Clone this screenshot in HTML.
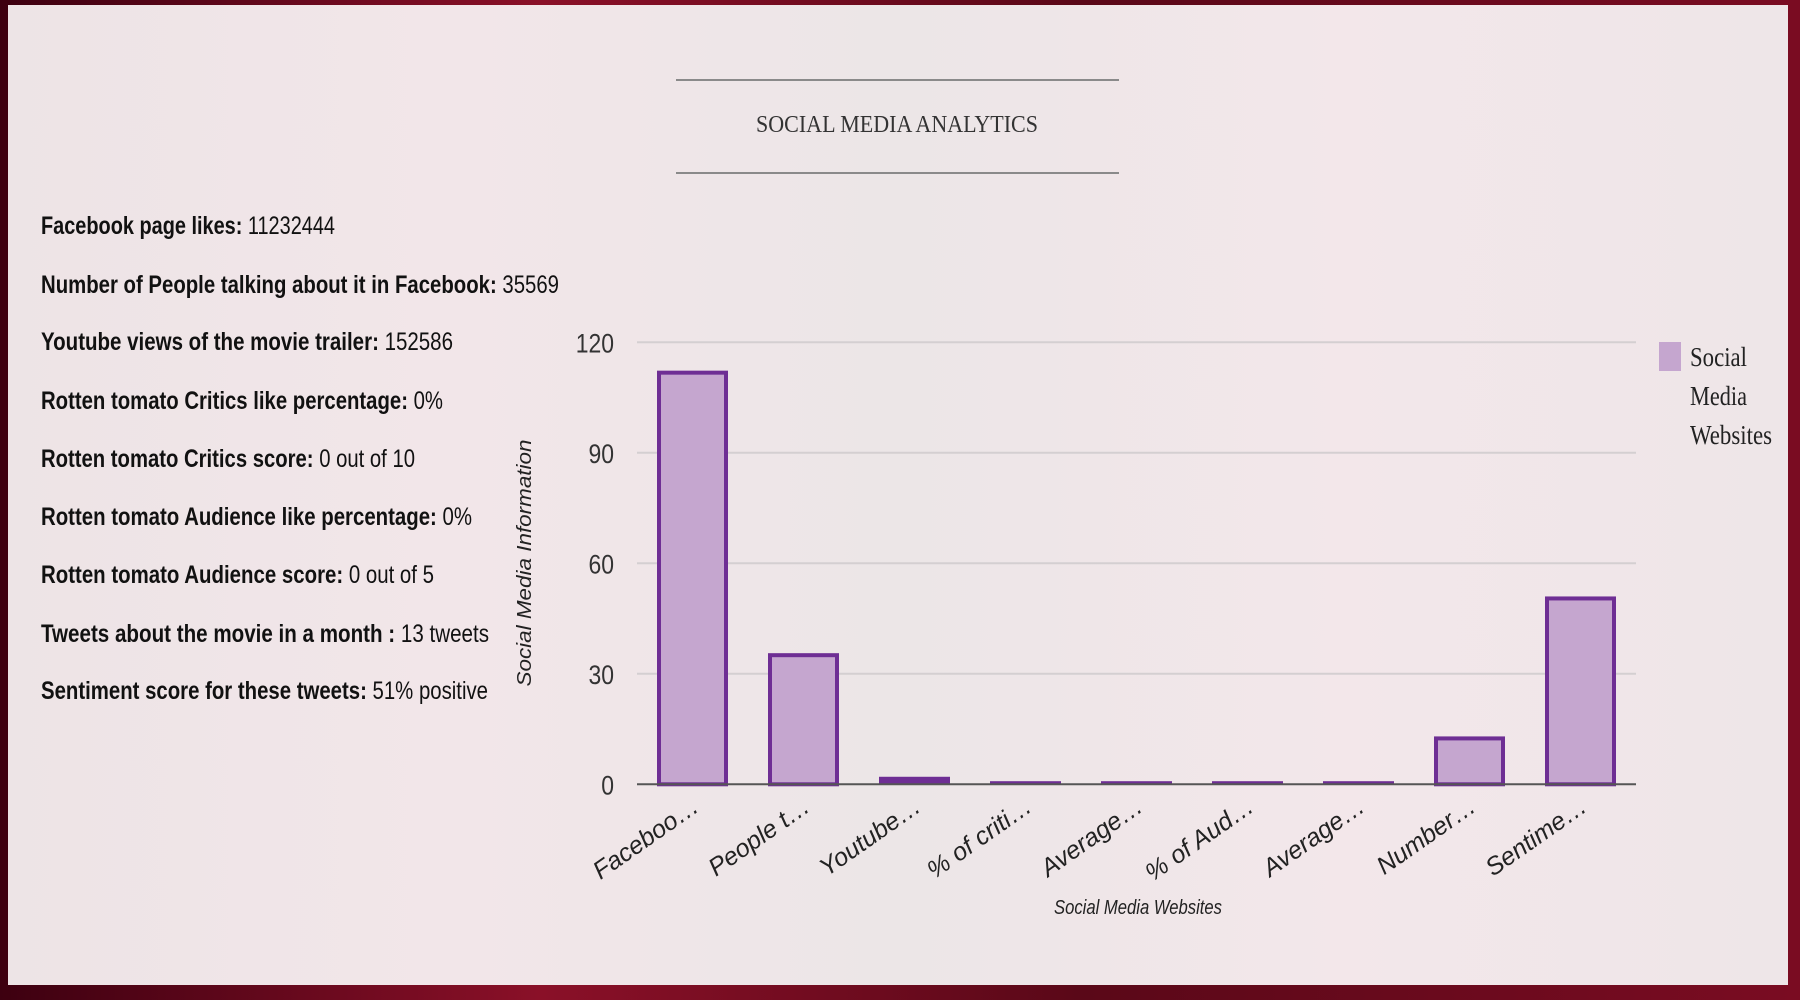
<!DOCTYPE html>
<html><head><meta charset="utf-8"><style>
html,body{margin:0;padding:0;width:1800px;height:1000px;overflow:hidden;background:#6a0a1c}
svg{display:block}
</style></head><body>
<svg id="chart" width="1800" height="1000" xmlns="http://www.w3.org/2000/svg">
<defs>
<linearGradient id="frame" x1="0" x2="1" y1="0" y2="0">
<stop offset="0" stop-color="#3d0010"/><stop offset="0.3" stop-color="#8a1028"/><stop offset="0.6" stop-color="#5a0818"/><stop offset="1" stop-color="#7a0c22"/>
</linearGradient>
<linearGradient id="panel" x1="0" x2="1" y1="0" y2="0">
<stop offset="0" stop-color="#ede4e6"/><stop offset="0.25" stop-color="#f2e6e9"/><stop offset="0.5" stop-color="#ece6e7"/><stop offset="0.75" stop-color="#f3e7ea"/><stop offset="1" stop-color="#eee6e8"/>
</linearGradient>
</defs>
<rect x="0" y="0" width="1800" height="1000" fill="url(#frame)"/>
<rect x="8" y="5" width="1780" height="980" fill="url(#panel)"/>

<g>
<line x1="676" y1="80" x2="1119" y2="80" stroke="#8a8a8a" stroke-width="2"/>
<line x1="676" y1="173" x2="1119" y2="173" stroke="#8a8a8a" stroke-width="2"/>
<text x="897" y="132" text-anchor="middle" font-family="Liberation Serif, serif" font-size="24" fill="#333" textLength="282" lengthAdjust="spacingAndGlyphs">SOCIAL MEDIA ANALYTICS</text>
</g>

<g id="stats" font-family="Liberation Sans, sans-serif" font-size="25" fill="#111"></g>
<g id="plot"></g>

<g>
<rect x="1659" y="342" width="22" height="29" fill="#c5a6cf"/>
<text font-family="Liberation Serif, serif" font-size="27" fill="#222">
<tspan x="1690" y="366" textLength="57" lengthAdjust="spacingAndGlyphs">Social</tspan><tspan x="1690" y="405" textLength="57" lengthAdjust="spacingAndGlyphs">Media</tspan><tspan x="1690" y="444" textLength="82" lengthAdjust="spacingAndGlyphs">Websites</tspan></text>
</g>

<text transform="translate(531,563) rotate(-90)" text-anchor="middle" font-family="Liberation Sans, sans-serif" font-style="italic" font-size="20" fill="#222" textLength="247" lengthAdjust="spacingAndGlyphs">Social Media Information</text>
<text x="1138" y="914" text-anchor="middle" font-family="Liberation Sans, sans-serif" font-style="italic" font-size="20" fill="#222" textLength="168" lengthAdjust="spacingAndGlyphs">Social Media Websites</text>
</svg>
<script>
const statLabels = ["Facebook page likes:", "Number of People talking about it in Facebook:", "Youtube views of the movie trailer:", "Rotten tomato Critics like percentage:", "Rotten tomato Critics score:", "Rotten tomato Audience like percentage:", "Rotten tomato Audience score:", "Tweets about the movie in a month :", "Sentiment score for these tweets:"];
const statValues = ["11232444", "35569", "152586", "0%", "0 out of 10", "0%", "0 out of 5", "13 tweets", "51% positive"];
const categories = ["Faceboo…", "People t…", "Youtube…", "% of criti…", "Average…", "% of Aud…", "Average…", "Number…", "Sentime…"];
const values = [112.3, 35.6, 1.5, 0.3, 0.3, 0.3, 0.3, 13, 51];
const yTicks = [0, 30, 60, 90, 120];

const NS = "http://www.w3.org/2000/svg";
function mk(tag, attrs, parent){const e=document.createElementNS(NS,tag);for(const k in attrs)e.setAttribute(k,attrs[k]);parent.appendChild(e);return e;}

const stats = document.getElementById('stats');
const statWidths = [294, 518, 412, 402, 374, 431, 393, 448, 447];
const statY = [234, 293, 350, 409, 467, 525, 583, 642, 699];
statLabels.forEach((lab,i)=>{
  const t = mk('text',{x:41,y:statY[i],textLength:statWidths[i],lengthAdjust:'spacingAndGlyphs'},stats);
  
  
  const b = mk('tspan',{'font-weight':'bold'},t); b.textContent = lab + ' ';
  const v = mk('tspan',{},t); v.textContent = statValues[i];
});

const plot = document.getElementById('plot');
const x0 = 637, x1 = 1636, yBase = 784.3, yTop = 342.3, yMax = 120;
const band = (x1-x0)/categories.length;
const yS = v => yBase - (v/yMax)*(yBase-yTop);
yTicks.forEach(t=>{
  if(t>0){
    const g = mk('line',{x1:x0,x2:x1,y1:yS(t),y2:yS(t),stroke:'#d4cfd1','stroke-width':2},plot);
    
    
  }
  const l = mk('text',{x:614,y:yS(t)+10,'text-anchor':'end','font-family':'Liberation Sans, sans-serif','font-size':27,fill:'#333'},plot);
  l.setAttribute('transform',`translate(${614*0.15} 0) scale(0.85 1)`);
  l.textContent = t;
  
  
});
values.forEach((v,i)=>{
  const bx = x0 + i*band + (band-71)/2;
  const top = yS(v);
  const h = Math.max(yBase-top, 1);
  const r = mk('rect',{x:bx+2,y:yBase-h+2,width:67,height:Math.max(h-2,0.5),fill:'#c5a6cf',stroke:'#6e2e94','stroke-width':4},plot);
  if(h<6){r.setAttribute('y',yBase-h-2);r.setAttribute('height',h+2);r.setAttribute('fill','#6e2e94');r.setAttribute('stroke','none');r.setAttribute('x',bx);r.setAttribute('width',71);}
  
  
  const cx = x0 + i*band + band/2;
  const lab = mk('text',{'text-anchor':'end','font-family':'Liberation Sans, sans-serif','font-style':'italic','font-size':25,fill:'#222',transform:`translate(${cx+8},${810}) rotate(-35)`},plot);
  lab.textContent = categories[i];
  
  
});
const ax = mk('line',{x1:x0,x2:x1,y1:yBase,y2:yBase,stroke:'#555','stroke-width':2},plot);


</script>
</body></html>
